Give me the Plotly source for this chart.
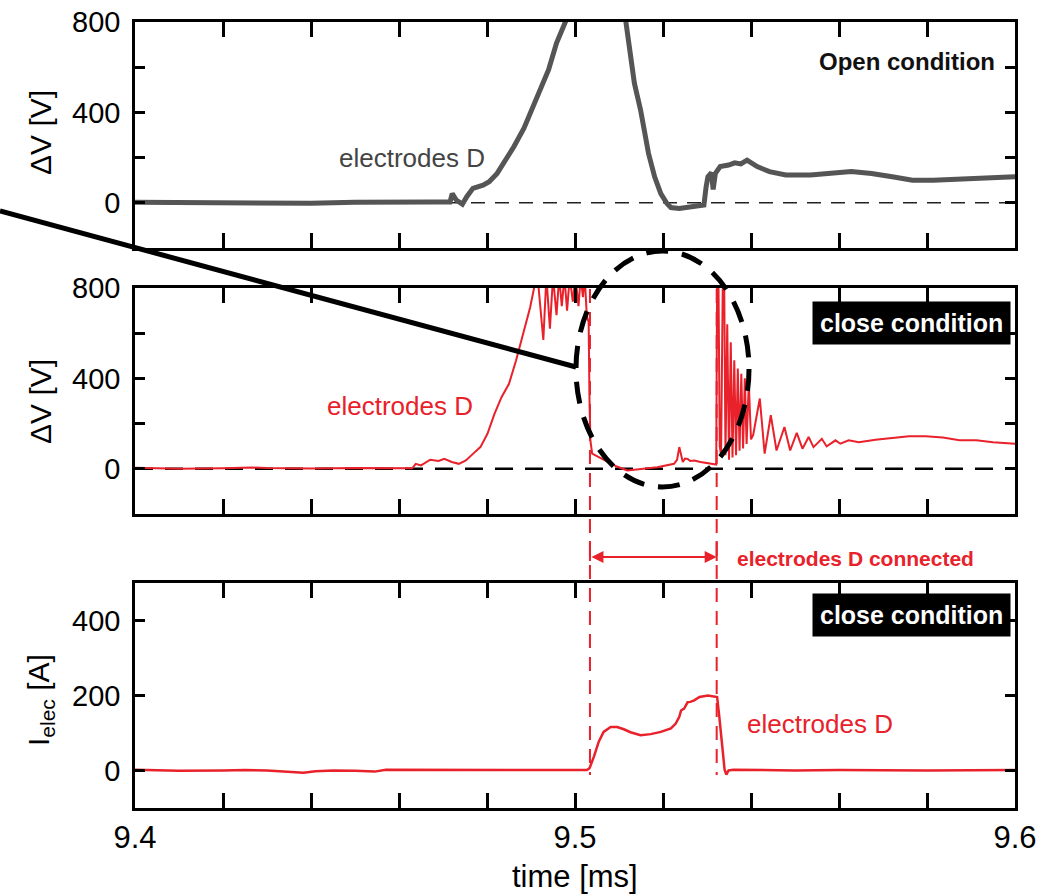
import plotly.graph_objects as go

# ---------------- data ----------------
# Top panel: open condition, Delta V [V]
t_open = [9.400, 9.410, 9.420, 9.430, 9.440, 9.450, 9.460, 9.4675, 9.4716, 9.4721, 9.4730, 9.4744,
          9.4754, 9.4768, 9.4791, 9.4805, 9.4823, 9.4842, 9.4861, 9.4884, 9.4902, 9.4921, 9.4940,
          9.4958, 9.4972, 9.4982, 9.5020, 9.5050, 9.5080, 9.5105, 9.5116, 9.5121, 9.5135, 9.5149,
          9.5158, 9.5167, 9.5181, 9.5195, 9.5209, 9.5218, 9.5237, 9.5265, 9.5293, 9.5298, 9.5302,
          9.5310, 9.5314, 9.5319, 9.5330, 9.5349, 9.5363, 9.5377, 9.5391, 9.5414, 9.5442, 9.5479,
          9.5535, 9.5628, 9.5674, 9.5721, 9.5767, 9.5814, 9.5907, 9.6000]
dv_open = [2, 0, 3, 1, -2, 2, 0, 3, 4, 41, 12, -6,
           27, 64, 78, 93, 130, 189, 248, 330, 411, 500, 589,
           707, 781, 818, 1300, 1500, 1300, 950, 800, 692, 529, 411,
           308, 219, 115, 41, -3, -21, -25, -18, -10, 71, 115,
           133, 59, 130, 160, 167, 177, 172, 189, 160, 138, 123,
           123, 138, 130, 115, 100, 100, 108, 115]

# Middle panel: close condition, Delta V [V]
t_close = [9.400, 9.410, 9.420, 9.4265, 9.430, 9.440, 9.450, 9.460, 9.4630, 9.4638, 9.4650, 9.4671,
           9.4690, 9.4703, 9.4720, 9.4736, 9.4752, 9.4768, 9.4785, 9.4801, 9.4817, 9.4833, 9.4850,
           9.4866, 9.4882, 9.4898, 9.4907, 9.4915, 9.4928, 9.4935, 9.4943, 9.4950, 9.4958, 9.4964,
           9.4970, 9.4976, 9.4982, 9.4988, 9.4995, 9.5001, 9.5008, 9.5013, 9.5018, 9.5022, 9.5027,
           9.5031, 9.5033, 9.5035, 9.5039, 9.5055, 9.5073, 9.5095, 9.5119, 9.5149, 9.5187, 9.5225,
           9.5232, 9.5237, 9.5241, 9.5245, 9.5250, 9.5256, 9.5262, 9.5271, 9.5285, 9.5302, 9.5321,
           9.5323, 9.5326, 9.5329, 9.5332, 9.5336, 9.5339, 9.5342, 9.5346, 9.5350, 9.5354, 9.5358,
           9.5362, 9.5366, 9.5370, 9.5374, 9.5378, 9.5382, 9.5386, 9.5390, 9.5395, 9.5400, 9.5405,
           9.5420, 9.5431, 9.5445, 9.5458, 9.5476, 9.5489, 9.5504,
           9.5517, 9.5531, 9.5542, 9.5561, 9.5572, 9.5592, 9.5603, 9.5622, 9.5645, 9.5683, 9.5721,
           9.5759, 9.5797, 9.5836, 9.5874, 9.5912, 9.5950, 9.6000]
dv_close = [5, 0, 2, 6, 3, 1, 4, 0, 2, 22, 15, 40,
            35, 44, 30, 22, 37, 66, 96, 155, 243, 317, 376,
            479, 597, 714, 800, 850, 570, 850, 620, 850, 680, 850,
            720, 850, 700, 850, 740, 850, 720, 850, 760, 850, 674,
            650, 300, 126, 67, 50, 30, 10, -7, 0, 7, 22,
            40, 96, 60, 30, 45, 44, 35, 37, 30, 25, 19,
            850, 850, 100, 60, 850, 850, 60, 640, 40, 560, 50,
            480, 60, 444, 80, 420, 90, 400, 110, 380, 130, 150,
            311, 67, 237, 81, 185, 81, 159,
            89, 141, 96, 133, 99, 126, 111, 126, 118, 129, 138,
            144, 144, 138, 126, 126, 118, 111]

# Bottom panel: close condition, electrode current [A]
t_cur = [9.400, 9.410, 9.420, 9.425, 9.430, 9.435, 9.4383, 9.441, 9.445, 9.450, 9.4545, 9.457,
         9.460, 9.470, 9.480, 9.490, 9.500, 9.5027, 9.5033, 9.5043, 9.5054, 9.5065, 9.5081, 9.5096,
         9.5111, 9.5126, 9.5149, 9.5172, 9.5195, 9.5218, 9.5229, 9.5237, 9.5241, 9.5248, 9.5256,
         9.5262, 9.5271, 9.5283, 9.5302, 9.5317, 9.5323, 9.5328, 9.5334, 9.5340, 9.5344, 9.5349,
         9.5360, 9.5500, 9.5600, 9.5800, 9.6000]
i_cur = [2, -1, 0, 1, 0, -3, -6, -2, 0, -1, -3, 2,
         2, 1, 2, 1, 1, 1, 6, 37, 77, 103, 116, 116,
         110, 102, 94, 97, 103, 112, 125, 143, 160, 165, 182,
         183, 187, 196, 200, 197, 196, 143, 63, 2, -11, 0,
         2, 0, 1, 0, 1]

# connection interval (electrodes D connected)
t_conn = [9.5034, 9.5322]

x_tickvals = [9.40, 9.42, 9.44, 9.46, 9.48, 9.50, 9.52, 9.54, 9.56, 9.58, 9.60]
x_ticktext = ["9.4", "", "", "", "", "9.5", "", "", "", "", "9.6"]
dv_tickvals = [-200, 0, 200, 400, 600, 800]
dv_ticktext = ["", "0", "", "400", "", "800"]
i_tickvals = [0, 200, 400]
i_ticktext = ["0", "200", "400"]

# ---------------- styling ----------------
FONT = "Liberation Sans, Arial, sans-serif"
RED = "#e8212b"
GRAY = "#555555"
W, H = 1043, 896
ML, MR, MT, MB = 135, 28, 22, 88
PW, PH = W - ML - MR, H - MT - MB


def px_x(px):
    return (px - ML) / PW


def px_y(py):
    return (H - MB - py) / PH


fig = go.Figure()
fig.add_trace(go.Scatter(x=t_open, y=dv_open, xaxis="x", yaxis="y", mode="lines",
                         line=dict(color=GRAY, width=5), showlegend=False))
fig.add_trace(go.Scatter(x=t_close, y=dv_close, xaxis="x2", yaxis="y2", mode="lines",
                         line=dict(color=RED, width=2), showlegend=False))
fig.add_trace(go.Scatter(x=t_cur, y=i_cur, xaxis="x3", yaxis="y3", mode="lines",
                         line=dict(color=RED, width=2.5), showlegend=False))

xcommon = dict(range=[9.4, 9.6], tickmode="array", tickvals=x_tickvals, ticktext=x_ticktext,
               ticks="inside", ticklen=15, tickwidth=2.5, tickcolor="black",
               showline=True, linewidth=2.5, linecolor="black", mirror="ticks",
               showgrid=False, zeroline=False, automargin=False,
               tickfont=dict(family=FONT, size=31, color="black"))
ycommon = dict(ticks="inside", ticklen=10, tickwidth=2.5, tickcolor="black",
               showline=True, linewidth=2.5, linecolor="black", mirror="ticks",
               showgrid=False, zeroline=False, ticklabelstandoff=6, automargin=False,
               tickfont=dict(family=FONT, size=29, color="black"))

dom_top = [px_y(248), 1.0]
dom_mid = [px_y(514), px_y(288)]
dom_bot = [0.0, px_y(583)]

fig.update_layout(
    width=W, height=H, autosize=False,
    margin=dict(l=ML, r=MR, t=MT, b=MB, autoexpand=False),
    paper_bgcolor="white", plot_bgcolor="white",
    showlegend=False,
    xaxis=dict(**xcommon, domain=[0, 1], anchor="y", showticklabels=False),
    xaxis2=dict(**xcommon, domain=[0, 1], anchor="y2", showticklabels=False),
    xaxis3=dict(**xcommon, domain=[0, 1], anchor="y3", showticklabels=True, ticklabelstandoff=0),
    yaxis=dict(**ycommon, domain=dom_top, anchor="x", range=[-200, 800],
               tickmode="array", tickvals=dv_tickvals, ticktext=dv_ticktext),
    yaxis2=dict(**ycommon, domain=dom_mid, anchor="x2", range=[-200, 800],
                tickmode="array", tickvals=dv_tickvals, ticktext=dv_ticktext),
    yaxis3=dict(**ycommon, domain=dom_bot, anchor="x3", range=[-100, 500],
                tickmode="array", tickvals=i_tickvals, ticktext=i_ticktext),
)

shapes = []
# zero reference lines
shapes.append(dict(type="line", xref="x", yref="y", x0=9.4, x1=9.6, y0=0, y1=0, layer="below",
                   line=dict(color="#222222", width=1.5, dash="14px,10px")))
shapes.append(dict(type="line", xref="x2", yref="y2", x0=9.4, x1=9.6, y0=0, y1=0, layer="below",
                   line=dict(color="black", width=2.5, dash="18px,12px")))
# connection interval dashed verticals
for tc in t_conn:
    shapes.append(dict(type="line", xref="x3", yref="paper", x0=tc, x1=tc,
                       y0=px_y(289), y1=px_y(775),
                       line=dict(color=RED, width=2, dash="14px,9px")))
    shapes.append(dict(type="line", xref="x3", yref="paper", x0=tc, x1=tc,
                       y0=px_y(541), y1=px_y(561), line=dict(color=RED, width=2)))
# dashed ellipse highlighting the connected interval
shapes.append(dict(type="circle", xref="paper", yref="paper",
                   x0=px_x(576), x1=px_x(749), y0=px_y(487), y1=px_y(251),
                   line=dict(color="black", width=5, dash="22px,14px")))
# pointer line
shapes.append(dict(type="line", xref="paper", yref="paper",
                   x0=px_x(0), y0=px_y(211), x1=px_x(576), y1=px_y(367),
                   line=dict(color="black", width=5)))
fig.update_layout(shapes=shapes)

C = dict(xanchor="center", yanchor="middle", showarrow=False)
ann = []
# axis titles
ann.append(dict(text="ΔV [V]", xref="paper", yref="paper", x=px_x(41), y=px_y(133),
                textangle=-90, font=dict(family=FONT, size=30, color="black"), **C))
ann.append(dict(text="ΔV [V]", xref="paper", yref="paper", x=px_x(40), y=px_y(402),
                textangle=-90, font=dict(family=FONT, size=30, color="black"), **C))
ann.append(dict(text="I<sub>elec</sub> [A]", xref="paper", yref="paper", x=px_x(40), y=px_y(700),
                textangle=-90, font=dict(family=FONT, size=30, color="black"), **C))
ann.append(dict(text="time [ms]", xref="paper", yref="paper", x=0.5, y=px_y(876),
                font=dict(family=FONT, size=31, color="black"), **C))
# panel labels
ann.append(dict(text="electrodes D", xref="x", yref="y", x=9.4629, y=199,
                font=dict(family=FONT, size=26, color="#444444"), **C))
ann.append(dict(text="<b>Open condition</b>", xref="paper", yref="paper", x=px_x(907), y=px_y(61),
                font=dict(family=FONT, size=24, color="#111111"), **C))
ann.append(dict(text="electrodes D", xref="x2", yref="y2", x=9.4602, y=280,
                font=dict(family=FONT, size=26, color=RED), **C))
ann.append(dict(text="electrodes D", xref="x3", yref="y3", x=9.5557, y=123,
                font=dict(family=FONT, size=26, color=RED), **C))
for yc in (323, 615):
    ann.append(dict(text="<b>close condition</b>", xref="paper", yref="paper",
                    x=px_x(1011), y=px_y(yc), xanchor="right", yanchor="middle",
                    showarrow=False, bgcolor="black", borderpad=7,
                    font=dict(family=FONT, size=25, color="white")))
ann.append(dict(text="<b>electrodes D connected</b>", xref="paper", yref="paper",
                x=px_x(855), y=px_y(558),
                font=dict(family=FONT, size=21, color=RED), **C))
# double-headed arrow for the connected interval
ann.append(dict(text="", xref="x3", yref="paper", x=t_conn[1], y=px_y(557),
                axref="x3", ayref="pixel", ax=t_conn[0], ay=0,
                showarrow=True, arrowside="end+start", arrowhead=2, arrowsize=1.2,
                arrowwidth=2, arrowcolor=RED, standoff=0, startstandoff=0))
fig.update_layout(annotations=ann)

fig.write_html("out.html")
